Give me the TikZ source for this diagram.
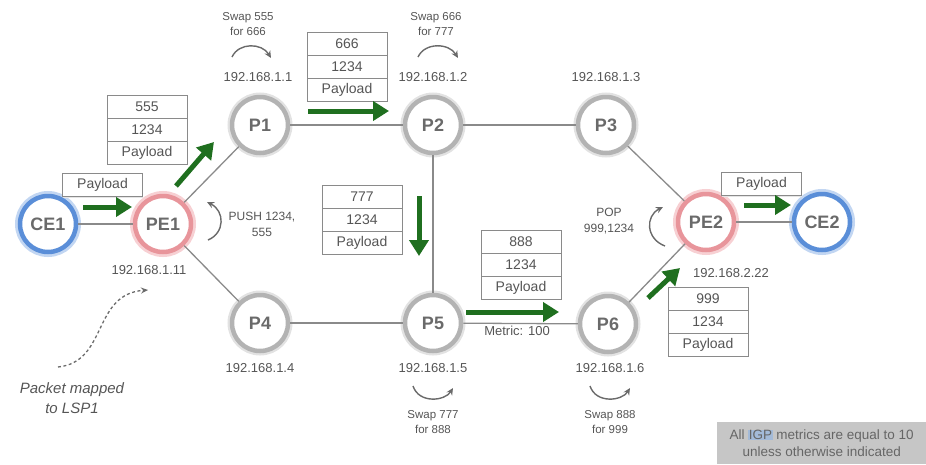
\documentclass[tikz,border=0pt]{standalone}
\usepackage{fontspec}
\setmainfont{Liberation Sans}
\usetikzlibrary{arrows.meta,positioning,shadows}
\definecolor{ringgray}{HTML}{B3B3B3}
\definecolor{glowgray}{HTML}{E2E2E2}
\definecolor{ringpink}{HTML}{E8959B}
\definecolor{glowpink}{HTML}{F7D0D3}
\definecolor{ringblue}{HTML}{5A8ED8}
\definecolor{glowblue}{HTML}{C2D6F2}
\definecolor{nodetext}{HTML}{6A6A6A}
\definecolor{arrowgreen}{HTML}{1F6F1F}
\definecolor{linkgray}{HTML}{8A8A8A}
\definecolor{txt}{HTML}{555555}
\definecolor{notebg}{HTML}{C6C6C6}
\definecolor{notetxt}{HTML}{666666}
\definecolor{igp}{HTML}{A3BAD8}
\begin{document}
\begin{tikzpicture}[x=1pt,y=-1pt,
  router/.style={circle, minimum size=56pt, inner sep=0pt, line width=4.5pt, fill=white,
    text=nodetext, font=\fontsize{18}{20}\selectfont\bfseries},
  pnode/.style={router, draw=ringgray, preaction={draw=glowgray, line width=9pt}},
  penode/.style={router, draw=ringpink, preaction={draw=glowpink, line width=10pt}},
  cenode/.style={router, draw=ringblue, preaction={draw=glowblue, line width=10pt}},
  link/.style={draw=linkgray, line width=1.3pt},
  flow/.style={draw=arrowgreen, line width=5pt, -{Triangle[length=16pt,width=19pt]}},
  cell/.style={draw=linkgray, line width=0.8pt, fill=white, minimum width=80pt, minimum height=23pt,
    inner sep=0pt, text=txt, font=\fontsize{14}{16}\selectfont,
    general shadow={fill=black!10, shadow xshift=0.8pt, shadow yshift=-1.2pt}},
  ip/.style={text=txt, font=\fontsize{13}{15}\selectfont, inner sep=0pt},
  small/.style={text=txt, font=\fontsize{11.5}{15.5}\selectfont, align=center, inner sep=0pt},
  turn/.style={draw=nodetext, line width=1.4pt, -{Stealth[length=7pt,width=6.5pt]}}
]
\useasboundingbox (0,0) rectangle (926,464);

\coordinate (cCE1) at (48,224);
\coordinate (cPE1) at (163,224);
\coordinate (cP1) at (260,125);
\coordinate (cP2) at (433,125);
\coordinate (cP3) at (606,125);
\coordinate (cP4) at (260,323);
\coordinate (cP5) at (433,323);
\coordinate (cP6) at (608,324);
\coordinate (cPE2) at (706,222);
\coordinate (cCE2) at (822,222);

\node[cenode] (CE1) at (cCE1) {CE1};
\node[penode] (PE1) at (cPE1) {PE1};
\node[pnode] (P1) at (cP1) {P1};
\node[pnode] (P2) at (cP2) {P2};
\node[pnode] (P3) at (cP3) {P3};
\node[pnode] (P4) at (cP4) {P4};
\node[pnode] (P5) at (cP5) {P5};
\node[pnode] (P6) at (cP6) {P6};
\node[penode] (PE2) at (cPE2) {PE2};
\node[cenode] (CE2) at (cCE2) {CE2};

\draw[link] (CE1) -- (PE1);
\draw[link] (PE1) -- (P1);
\draw[link] (PE1) -- (P4);
\draw[link] (P1) -- (P2);
\draw[link] (P2) -- (P3);
\draw[link] (P2) -- (P5);
\draw[link] (P4) -- (P5);
\draw[link] (P5) -- (P6);
\draw[link] (P3) -- (PE2);
\draw[link] (P6) -- (PE2);
\draw[link] (PE2) -- (CE2);

\node[ip] (ip1) at (258,77) {192.168.1.1};
\node[ip] (ip2) at (433,77) {192.168.1.2};
\node[ip] (ip3) at (606,77) {192.168.1.3};
\node[ip] (ip11) at (149,270) {192.168.1.11};
\node[ip] (ip4) at (260,368) {192.168.1.4};
\node[ip] (ip5) at (433,368) {192.168.1.5};
\node[ip] (ip6) at (610,368) {192.168.1.6};
\node[ip] (ip22) at (731,273) {192.168.2.22};

\node[cell] (s1a) at (147,106.5) {555};
\node[cell] (s1b) at (147,129.5) {1234};
\node[cell] (s1c) at (147,152.5) {Payload};
\node[cell] (s2a) at (347,43.5) {666};
\node[cell] (s2b) at (347,66.5) {1234};
\node[cell] (s2c) at (347,89.5) {Payload};
\node[cell] (s3a) at (362,196.5) {777};
\node[cell] (s3b) at (362,219.5) {1234};
\node[cell] (s3c) at (362,242.5) {Payload};
\node[cell] (s4a) at (521,241.5) {888};
\node[cell] (s4b) at (521,264.5) {1234};
\node[cell] (s4c) at (521,287.5) {Payload};
\node[cell] (s5a) at (708,298.5) {999};
\node[cell] (s5b) at (708,321.5) {1234};
\node[cell] (s5c) at (708,344.5) {Payload};
\node[cell] (pl1) at (102.5,185) {Payload};
\node[cell] (pl2) at (761.5,184) {Payload};

\coordinate (f1a) at (83,207); \coordinate (f1b) at (132,207);
\coordinate (f2a) at (176,186); \coordinate (f2b) at (214,142);
\coordinate (f3a) at (308,111); \coordinate (f3b) at (389,111);
\coordinate (f4a) at (419,196); \coordinate (f4b) at (419,256);
\coordinate (f5a) at (466,312); \coordinate (f5b) at (559,312);
\coordinate (f6a) at (648,298); \coordinate (f6b) at (680,268);
\coordinate (f7a) at (744,205); \coordinate (f7b) at (791,205);
\draw[flow] (f1a) -- (f1b);
\draw[flow] (f2a) -- (f2b);
\draw[flow] (f3a) -- (f3b);
\draw[flow] (f4a) -- (f4b);
\draw[flow] (f5a) -- (f5b);
\draw[flow] (f6a) -- (f6b);
\draw[flow] (f7a) -- (f7b);

\node[small] (sw1) at (248,24) {Swap 555\\for 666};
\node[small] (sw2) at (436,24) {Swap 666\\for 777};
\node[small] (sw3) at (433,422) {Swap 777\\for 888};
\node[small] (sw4) at (610,422) {Swap 888\\for 999};
\node[small, font=\fontsize{12}{16}\selectfont] (push) at (262,224) {PUSH 1234,\\555};
\node[small, font=\fontsize{12}{16}\selectfont] (pop) at (609,221) {POP\\999,1234};
\node[ip] (metric) at (517,331) {Metric: 100};

\coordinate (t1a) at (232,57); \coordinate (t1b) at (271,58);
\coordinate (t2a) at (418,57); \coordinate (t2b) at (458,58);
\coordinate (t3a) at (413,386); \coordinate (t3b) at (453,388);
\coordinate (t4a) at (590,386); \coordinate (t4b) at (630,388);
\coordinate (t5a) at (208,240); \coordinate (t5b) at (207,202);
\coordinate (t6a) at (665,246); \coordinate (t6b) at (663,207);
\draw[turn] (t1a) .. controls ++(7,-15) and ++(-9,-15) .. (t1b);
\draw[turn] (t2a) .. controls ++(7,-15) and ++(-9,-15) .. (t2b);
\draw[turn] (t3a) .. controls ++(6,18) and ++(-8,13) .. (t3b);
\draw[turn] (t4a) .. controls ++(6,18) and ++(-8,13) .. (t4b);
\draw[turn] (t5a) .. controls ++(17,-7) and ++(18,9) .. (t5b);
\draw[turn] (t6a) .. controls ++(-19,-7) and ++(-18,9) .. (t6b);

\node[text=txt, font=\fontsize{15}{20}\selectfont\itshape, align=center, inner sep=0pt] (pm) at (72,398) {Packet mapped\\to LSP1};
\coordinate (pmS) at (58,367);
\coordinate (pmE) at (148,290);
\draw[draw=nodetext, line width=1.3pt, dash pattern=on 3pt off 2.5pt, -{Stealth[length=7pt,width=6pt]}]
  (pmS) .. controls (108,362) and (92,294) .. (pmE);

\node[fill=notebg, minimum width=209pt, minimum height=42pt, anchor=north west, inner sep=0pt,
  text=notetxt, font=\fontsize{13.5}{17}\selectfont, align=center] (note) at (717,422)
  {All {\setlength\fboxsep{0.5pt}\colorbox{igp}{IGP}} metrics are equal to 10\\unless otherwise indicated};
\end{tikzpicture}
\end{document}
